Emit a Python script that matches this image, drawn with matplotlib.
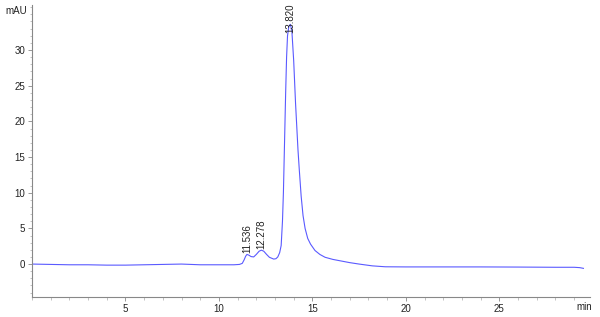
import matplotlib
matplotlib.use("Agg")
import matplotlib.pyplot as plt
from matplotlib.ticker import MultipleLocator

# retention time (min) and absorbance (mAU)
time_min = [0.0, 1.0, 2.0, 3.0, 4.0, 5.0, 6.0, 7.0, 8.0, 9.0, 10.0, 10.8, 11.1,
            11.25, 11.35, 11.43, 11.5, 11.6, 11.72, 11.86, 12.0, 12.15, 12.27,
            12.4, 12.55, 12.7, 12.93, 13.05, 13.15, 13.25, 13.33, 13.4, 13.45,
            13.51, 13.57, 13.62, 13.67, 13.74, 13.82, 13.9, 14.0, 14.1, 14.23,
            14.3, 14.4, 14.5, 14.61, 14.75, 14.9, 15.14, 15.4, 15.68, 16.1, 16.6,
            17.0, 17.5, 18.2, 18.9, 20.0, 22.0, 24.0, 26.0, 28.0, 29.0, 29.3, 29.5]
signal_mau = [0.0, -0.05, -0.1, -0.1, -0.15, -0.15, -0.1, -0.05, 0.0, -0.1, -0.1, -0.1, -0.05,
              0.1, 0.6, 1.1, 1.35, 1.25, 1.05, 1.0, 1.35, 1.8, 1.95,
              1.8, 1.35, 0.95, 0.7, 0.75, 1.0, 1.6, 2.6, 6.0, 10.0,
              17.0, 24.0, 29.0, 32.0, 33.3, 33.6, 32.8, 28.5, 22.5, 16.0,
              13.2, 9.5, 6.8, 5.0, 3.6, 2.8, 1.9, 1.35, 0.95, 0.65, 0.4,
              0.2, 0.0, -0.25, -0.38, -0.4, -0.4, -0.4, -0.42, -0.45, -0.45, -0.5, -0.6]

# labelled peaks
peak_rt = [11.536, 12.278, 13.820]
peak_labels = ["11.536", "12.278", "13.820"]
label_base = [1.5, 2.1, 32.4]

plt.rcParams['font.family'] = ['Liberation Sans', 'DejaVu Sans']

fig = plt.figure(figsize=(6.0, 3.17), dpi=100)
ax = fig.add_axes([0.0533, 0.063, 0.93, 0.921])

ax.plot(time_min, signal_mau, color='#5a5aff', lw=0.8)

for rt, lab, yb in zip(peak_rt, peak_labels, label_base):
    ax.text(rt, yb, lab, rotation=90, ha='center', va='bottom', fontsize=7, color='#222222')

ax.set_xlim(0, 29.85)
ax.set_ylim(-4.62, 36.3)

ax.xaxis.set_major_locator(MultipleLocator(5))
ax.xaxis.set_minor_locator(MultipleLocator(1))
ax.yaxis.set_major_locator(MultipleLocator(5))
ax.yaxis.set_minor_locator(MultipleLocator(1))
ax.set_xticks([5, 10, 15, 20, 25])
ax.set_yticks([0, 5, 10, 15, 20, 25, 30])

for side in ['top', 'right']:
    ax.spines[side].set_visible(False)
for side in ['left', 'bottom']:
    ax.spines[side].set_color('#888888')
    ax.spines[side].set_linewidth(0.8)

ax.tick_params(which='major', length=3, width=0.6, color='#888888', labelsize=7, pad=2, labelcolor='#222222')
ax.tick_params(which='minor', length=1.8, width=0.5, color='#aaaaaa')

fig.text(27 / 600, 1 - 11 / 317, 'mAU', ha='right', va='center', fontsize=7, color='#222222')
fig.text(592 / 600, 1 - 307 / 317, 'min', ha='right', va='center', fontsize=7, color='#222222')

fig.savefig('out.png', dpi=100)
